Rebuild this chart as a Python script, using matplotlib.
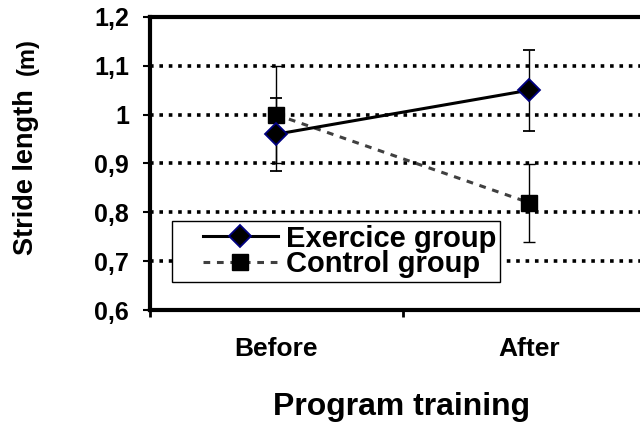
import matplotlib.pyplot as plt
from matplotlib.lines import Line2D
from matplotlib.legend_handler import HandlerLine2D

# Stride length before / after program training
phases = ["Before", "After"]
exercise = [0.96, 1.05]
exercise_err = [0.075, 0.083]
control = [1.0, 0.82]
control_err = [0.1, 0.08]
yticks = [0.6, 0.7, 0.8, 0.9, 1.0, 1.1, 1.2]
ytick_labels = ["0,6", "0,7", "0,8", "0,9", "1", "1,1", "1,2"]

plt.rcParams["font.family"] = ["Liberation Sans", "DejaVu Sans"]
plt.rcParams["font.weight"] = "bold"


class InsetHandler(HandlerLine2D):
    # legend line starts a bit to the right, like the Excel legend
    def create_artists(self, legend, orig_handle, xdescent, ydescent,
                       width, height, fontsize, trans):
        inset = 0.27 * width
        return super().create_artists(legend, orig_handle, xdescent - inset,
                                      ydescent, width - inset, height,
                                      fontsize, trans)


fig = plt.figure(figsize=(6.4, 4.23), dpi=100)
# axes runs past the right edge, like the original
ax = fig.add_axes([150 / 640, 1 - 310 / 423, 505 / 640, 293 / 423])

xpos = [0.5, 1.5]

ax.errorbar(xpos, exercise, yerr=exercise_err, color="black", linewidth=2.2,
            marker="D", markersize=11, markerfacecolor="black",
            markeredgecolor="#000080", markeredgewidth=1.3,
            ecolor="black", elinewidth=1, capsize=4.5, capthick=1, zorder=4)
ax.errorbar(xpos, control, yerr=control_err, color="#404040", linewidth=2.2,
            linestyle=(0, (2.2, 2.2)), marker="s", markersize=12,
            markerfacecolor="black", markeredgecolor="black",
            ecolor="black", elinewidth=1, capsize=4.5, capthick=1, zorder=3)

ax.set_xlim(0, 2)
ax.set_ylim(0.6, 1.2)
ax.set_yticks(yticks)
ax.set_yticklabels(ytick_labels, fontsize=18, fontweight="bold")
ax.set_xticks([0, 1, 2])
ax.set_xticklabels([])
ax.set_xticks(xpos, minor=True)
ax.set_xticklabels(phases, minor=True, fontsize=19, fontweight="bold")
ax.tick_params(axis="x", which="minor", length=0, pad=19.5)
ax.tick_params(axis="x", which="major", direction="out", length=5, width=2)
ax.tick_params(axis="y", direction="out", length=5, width=1.5, pad=10)

for y in yticks[1:]:
    ax.axhline(y, color="black", linestyle=(0, (1, 1.6)), linewidth=2.6, zorder=1)

for s in ["left", "bottom", "top"]:
    ax.spines[s].set_linewidth(3)
ax.spines["right"].set_visible(False)

fig.text(26 / 640, 1 - 172 / 423, "Stride length", rotation=90, ha="center",
         va="center", fontsize=19.5, fontweight="bold")
fig.text(27 / 640, 1 - 57 / 423, "(m)", rotation=90, ha="center",
         va="center", fontsize=17, fontweight="bold")
fig.text(402 / 640, 8 / 423, "Program training", ha="center",
         va="baseline", fontsize=23, fontweight="bold")

handles = [
    Line2D([], [], color="black", linewidth=2.2, marker="D", markersize=11,
           markerfacecolor="black", markeredgecolor="#000080", markeredgewidth=1.3),
    Line2D([], [], color="#404040", linewidth=2.2, linestyle=(0, (2.2, 2.2)),
           marker="s", markersize=12, markerfacecolor="black", markeredgecolor="black"),
]
leg = fig.legend(handles, ["Exercice group", "Control group"], loc="upper left",
                 bbox_to_anchor=(172 / 640, 1 - 221 / 423), fontsize=21,
                 frameon=True, fancybox=False, edgecolor="black", framealpha=1,
                 handlelength=3.5, borderpad=0.12, labelspacing=-0.07,
                 handletextpad=0.28, borderaxespad=0,
                 handler_map={Line2D: InsetHandler()})
leg.get_frame().set_linewidth(1)

fig.savefig("out.png", dpi=100)
